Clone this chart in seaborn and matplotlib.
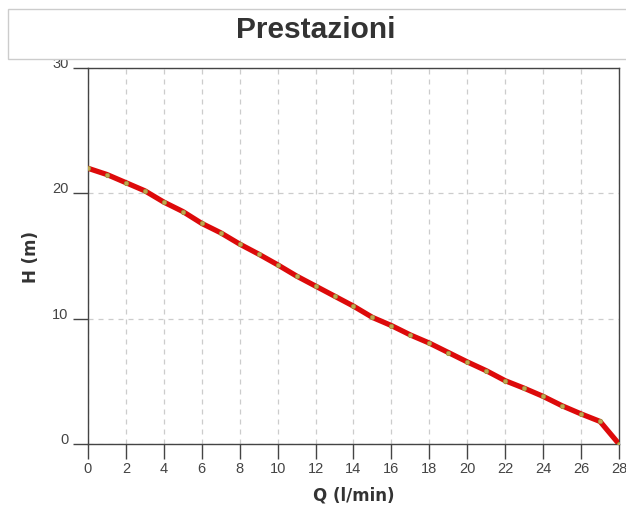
import matplotlib
matplotlib.use("Agg")
import matplotlib.pyplot as plt
import matplotlib.transforms as mtransforms
import seaborn as sns
import pandas as pd
from matplotlib.patches import Rectangle

# Data
q_values = list(range(0, 29))
h_values = [22.0, 21.5, 20.85, 20.2, 19.3, 18.55, 17.6, 16.85, 15.95, 15.15,
            14.3, 13.4, 12.6, 11.8, 11.0, 10.1, 9.45, 8.7, 8.05, 7.3,
            6.55, 5.85, 5.05, 4.45, 3.8, 3.05, 2.4, 1.8, 0.0]
x_ticks = list(range(0, 29, 2))
y_ticks = [0, 10, 20, 30]
title_text = "Prestazioni"
x_label = "Q (l/min)"
y_label = "H (m)"

df = pd.DataFrame({"Q": q_values, "H": h_values})

sns.set_style("white")
plt.rcParams['font.family'] = ['Liberation Sans', 'DejaVu Sans']

W, H = 626, 510
fig = plt.figure(figsize=(W / 100, H / 100), dpi=100)
ax = fig.add_axes([88 / W, 1 - 445 / H, (619 - 88) / W, (445 - 69) / H])

sns.lineplot(data=df, x="Q", y="H", ax=ax, color="#dd0a0a", linewidth=3.8,
             marker="o", markersize=3.2, markerfacecolor="#c0a850",
             markeredgecolor="#98903a", markeredgewidth=0.5, zorder=3)

ax.set_xlim(0, 28)
ax.set_ylim(0, 30)
ax.set_xticks(x_ticks)
ax.set_yticks(y_ticks)
ax.grid(True, color="#cccccc", linestyle=(0, (4, 4)), linewidth=0.9)
for s in ax.spines.values():
    s.set_color("#444444")
    s.set_linewidth(1.0)
ax.tick_params(axis="x", direction="out", length=10.5, width=1.0,
               color="#444444", labelcolor="#444444", labelsize=10.5,
               pad=1.5, bottom=True)
ax.tick_params(axis="y", direction="out", length=10.5, width=1.0,
               color="#444444", labelcolor="#444444", labelsize=10.5,
               pad=3.5, left=True)
# y tick labels sit just above their ticks in the reference
offset = mtransforms.ScaledTranslation(0, 1 / 100, fig.dpi_scale_trans)
for lbl in ax.get_yticklabels():
    lbl.set_va("baseline")
    lbl.set_transform(lbl.get_transform() + offset)

ax.set_xlabel(x_label, fontsize=12, fontweight="bold", color="#333333",
              labelpad=8, family=["DejaVu Sans"])
ax.set_ylabel(y_label, fontsize=12, fontweight="bold", color="#333333",
              labelpad=9, family=["DejaVu Sans"])

# Title box
fig.patches.append(Rectangle((8 / W, 1 - 60 / H), (W + 10) / W, 50 / H,
                             transform=fig.transFigure, facecolor="white",
                             edgecolor="#cccccc", linewidth=1.0, zorder=10))
fig.text(316 / W, 1 - 30 / H, title_text, ha="center", va="center",
         fontsize=21.5, fontweight="bold", color="#333333", zorder=11)

fig.savefig("out.png", dpi=100)
